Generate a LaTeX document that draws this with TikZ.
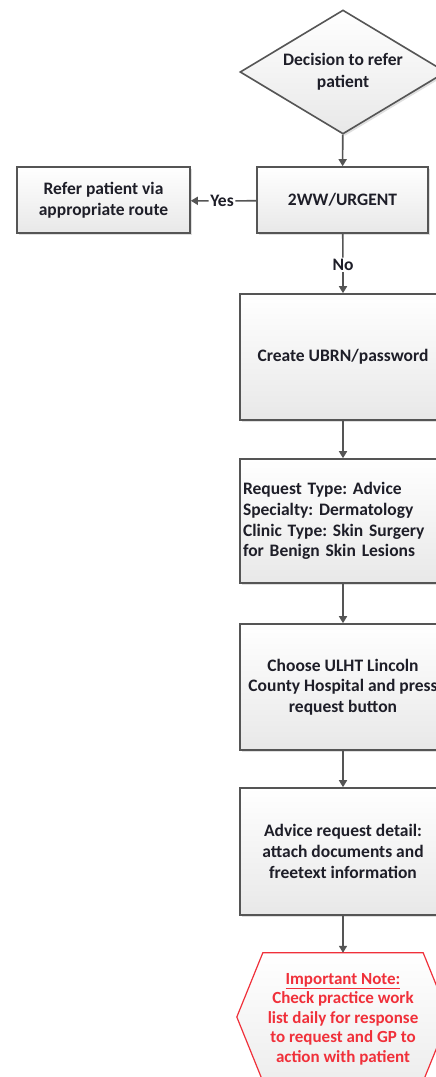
\documentclass[tikz,border=0pt]{standalone}
\usepackage{fontspec}
\setmainfont{Carlito}
\usetikzlibrary{shapes.geometric,shadows,arrows.meta,calc}
\definecolor{edge}{HTML}{555555}
\definecolor{ink}{HTML}{1E1E28}
\definecolor{alert}{HTML}{F0303A}
\frenchspacing
\tikzset{
  flow/.style={draw=edge, line width=1.6pt, top color=white, bottom color=black!9,
    drop shadow={shadow xshift=2pt, shadow yshift=-2pt, opacity=0.25},
    font=\bfseries\fontsize{17.5}{20.7}\selectfont, text=ink, align=center, inner sep=3pt},
  stepbox/.style={flow, rectangle, minimum width=206pt, minimum height=126pt},
  link/.style={draw=edge, line width=1.6pt, -{Triangle[length=7pt,width=8pt]}},
  plain/.style={draw=edge, line width=1.6pt},
  tag/.style={font=\bfseries\fontsize{17.5}{20}\selectfont, text=ink, inner sep=1.5pt}
}
\begin{document}
\begin{tikzpicture}[x=1pt,y=-1pt]
\clip (0,0) rectangle (436,1077);
\fill[white] (0,0) rectangle (436,1077);

\node[flow, diamond, aspect=1.66, minimum width=206pt, minimum height=124pt, inner sep=0pt]
  (dec) at (343,72) {Decision to refer\\[1pt]patient};
\node[flow, rectangle, minimum width=171pt, minimum height=66pt] (urg) at (342.5,200) {2WW/URGENT};
\node[flow, rectangle, minimum width=173pt, minimum height=66pt] (ref) at (103.5,200) {Refer patient via\\appropriate route};
\node[stepbox] (ubrn) at (343,357) {Create UBRN/password};
\node[stepbox, minimum height=124pt, text width=200pt, align=left] (req) at (343,521)
  {Request Type: Advice\\Specialty: Dermatology\\Clinic Type: Skin Surgery\\for Benign Skin Lesions};
\node[stepbox] (cho) at (343,687) {Choose ULHT Lincoln\\County Hospital and press\\request button};
\node[stepbox, minimum height=127pt] (adv) at (343,851.5) {Advice request detail:\\attach documents and\\freetext information};

% note: hexagon with pointed left and right ends around a text block
\node[minimum width=160pt, minimum height=128pt, inner sep=0pt] (note) at (343,1017) {};
\draw[alert, line width=1.2pt, top color=white, bottom color=black!7]
  (note.north west) -- (note.north east) -- ($(note.east)+(26,0)$) -- (note.south east)
  -- (note.south west) -- ($(note.west)+(-26,0)$) -- cycle;
\node[text=alert, align=center, font=\bfseries\fontsize{17}{19.5}\selectfont] (notetext) at (343,1019)
  {\underline{Important Note:}\\Check practice work\\list daily for response\\to request and GP to\\action with patient};

\node[tag] (yes) at (222,201) {Yes};
\node[tag] (no) at (343,265) {No};

\draw[link] (dec) -- (urg);
\draw[plain] (urg) -- (yes);
\draw[link] (yes) -- (ref);
\draw[plain] (urg) -- (no);
\draw[link] (no) -- (ubrn);
\draw[link] (ubrn) -- (req);
\draw[link] (req) -- (cho);
\draw[link] (cho) -- (adv);
\draw[link] (adv) -- (note.north);
\end{tikzpicture}
\end{document}
